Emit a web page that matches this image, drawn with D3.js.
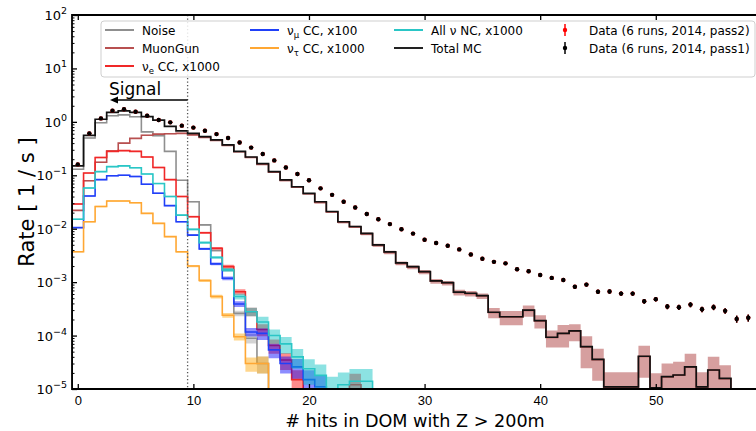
<!DOCTYPE html>
<html>
<head>
<meta charset="utf-8">
<script src="https://cdn.jsdelivr.net/npm/d3@7"></script>
<style>
  body { margin: 0; background: #fff; }
  svg { display: block; font-family: "DejaVu Sans", sans-serif; }
</style>
</head>
<body>
<svg id="chart" width="756" height="431"></svg>
<script>
// ---- data: rate per bin of "# hits in DOM with Z > 200m" (bin i = i hits) ----
const xTicks = [0, 10, 20, 30, 40, 50];
const yTicks = [1e-5, 1e-4, 1e-3, 1e-2, 1e-1, 1e0, 1e1, 1e2];
const yTickExp = ["\u22125", "\u22124", "\u22123", "\u22122", "\u22121", "0", "1", "2"];
const signalCut = 9.5;

const totalMC = [0.15, 0.56, 1.12, 1.5, 1.6, 1.5, 1.25, 1.08, 0.82, 0.68,
  0.61, 0.53, 0.46, 0.37, 0.28, 0.22, 0.165, 0.117, 0.082, 0.061,
  0.046, 0.032, 0.021, 0.0135, 0.011, 0.0082, 0.005, 0.0037, 0.0023, 0.00195,
  0.00157, 0.00106, 0.00098, 0.00065, 0.00062, 0.00056, 0.000273, 0.000225, 0.000225, 0.0003,
  0.00019, 0.000093, 0.00011, 0.000122, 0.000062, 0.000036, 0.000011, 0.000011, 0.000011, 0.000041,
  0.0000105, 0.000017, 0.0000183, 0.000026, 0.000011, 0.0000227, 0.0000158];

const noise = [0.13, 0.5, 0.96, 1.3, 1.35, 1.25, 0.65, 0.55, 0.28, 0.081,
  0.032, 0.0118, 0.0039, 0.0017, 0.00026, 0.000089, 0.00003];
const noiseErr = [0.02, 0.02, 0.02, 0.02, 0.02, 0.02, 0.02, 0.02, 0.02, 0.02,
  0.03, 0.04, 0.05, 0.08, 0.12, 0.2, 0.35];

const muonGun = [0.022, 0.079, 0.175, 0.285, 0.4, 0.49, 0.56, 0.59, 0.6, 0.61,
  0.57, 0.51, 0.45, 0.36, 0.275, 0.215, 0.16, 0.114, 0.08, 0.06,
  0.045, 0.031, 0.0205, 0.0132, 0.0108, 0.008, 0.0049, 0.0036, 0.00225, 0.0019,
  0.00154, 0.00104, 0.00096, 0.00064, 0.00061, 0.00055, 0.00027, 0.000222, 0.000222, 0.000296,
  0.000188, 0.000092, 0.000109, 0.000121, 0.000061, 0.0000355, 0.0000108, 0.0000108, 0.0000108, 0.0000405,
  0.0000104, 0.0000168, 0.0000181, 0.0000257, 0.0000108, 0.0000225, 0.0000156];
const muonGunErr = [0.02, 0.02, 0.02, 0.02, 0.02, 0.02, 0.02, 0.02, 0.02, 0.02,
  0.02, 0.02, 0.02, 0.02, 0.02, 0.02, 0.02, 0.02, 0.03, 0.03,
  0.03, 0.04, 0.04, 0.05, 0.05, 0.06, 0.07, 0.08, 0.08, 0.08,
  0.09, 0.1, 0.1, 0.12, 0.12, 0.12, 0.22, 0.3, 0.3, 0.24,
  0.28, 0.35, 0.45, 0.35, 0.6, 0.6, 0.9, 0.9, 0.9, 0.6,
  0.9, 0.78, 0.78, 0.78, 0.9, 0.78, 0.78];

const nueCC = [0.029, 0.11, 0.215, 0.28, 0.29, 0.28, 0.22, 0.14, 0.083, 0.04,
  0.0168, 0.0084, 0.0043, 0.00195, 0.00066, 0.00028, 0.00013, 0.000065, 0.000035, 0.000015,
  null, null, null, null, 0.000012];
const nueCCErr = [0.03, 0.03, 0.03, 0.03, 0.03, 0.03, 0.03, 0.03, 0.03, 0.03,
  0.04, 0.05, 0.06, 0.08, 0.12, 0.18, 0.25, 0.3, 0.35, 0.5,
  0, 0, 0, 0, 0.6];

const numuCC = [0.0105, 0.041, 0.083, 0.098, 0.1, 0.095, 0.068, 0.046, 0.027, 0.0135,
  0.0076, 0.0042, 0.0022, 0.00118, 0.00039, 0.000117, 0.00011, 0.000054, 0.00003, 0.000026,
  0.000015, 0.000011];
const numuCCErr = [0.03, 0.03, 0.03, 0.03, 0.03, 0.03, 0.03, 0.03, 0.03, 0.03,
  0.04, 0.05, 0.06, 0.08, 0.12, 0.18, 0.25, 0.3, 0.35, 0.4,
  0.5, 0.6];

const nutauCC = [0.0037, 0.0135, 0.026, 0.033, 0.033, 0.0307, 0.0194, 0.0126, 0.0071, 0.0037,
  0.002, 0.00107, 0.00054, 0.00024, 0.000095, 0.00003, 0.00003];
const nutauCCErr = [0.03, 0.03, 0.03, 0.03, 0.03, 0.03, 0.03, 0.03, 0.03, 0.04,
  0.05, 0.06, 0.08, 0.1, 0.15, 0.3, 0.35];

const allNC = [0.015, 0.058, 0.117, 0.145, 0.15, 0.138, 0.106, 0.07, 0.04, 0.018,
  0.0097, 0.0055, 0.0029, 0.0017, 0.00054, 0.00028, 0.00018, 0.0001, 0.00007, 0.00004,
  0.000024, 0.000018, 0.00001, 0.000012, 0.000014, 0.000014];
const allNCErr = [0.03, 0.03, 0.03, 0.03, 0.03, 0.03, 0.03, 0.03, 0.03, 0.03,
  0.04, 0.05, 0.06, 0.08, 0.12, 0.18, 0.25, 0.3, 0.35, 0.4,
  0.5, 0.6, 0.7, 0.7, 0.7, 0.7];

const dataPass1 = [0.16, 0.61, 1.16, 1.62, 1.72, 1.55, 1.3, 1.08, 0.98, 0.85,
  0.78, 0.68, 0.59, 0.5, 0.41, 0.33, 0.25, 0.19, 0.14, 0.106,
  0.081, 0.057, 0.043, 0.032, 0.025, 0.0188, 0.015, 0.0122, 0.0098, 0.0081,
  0.0062, 0.0054, 0.0048, 0.0041, 0.0033, 0.00274, 0.0024, 0.00225, 0.00174, 0.0016,
  0.00136, 0.0012, 0.0011, 0.00082, 0.0009, 0.00066, 0.00067, 0.00061, 0.00061, 0.00044,
  0.00048, 0.00035, 0.00034, 0.00038, 0.00031, 0.00034, 0.00029, 0.000205, 0.000215];
const dataPass2 = dataPass1.slice();
const dataErr = [0.01, 0.01, 0.01, 0.01, 0.01, 0.01, 0.01, 0.01, 0.01, 0.01,
  0.01, 0.01, 0.01, 0.01, 0.01, 0.01, 0.01, 0.01, 0.01, 0.02,
  0.02, 0.02, 0.02, 0.02, 0.02, 0.03, 0.03, 0.03, 0.03, 0.03,
  0.04, 0.04, 0.04, 0.04, 0.05, 0.05, 0.05, 0.05, 0.06, 0.06,
  0.06, 0.07, 0.07, 0.08, 0.08, 0.09, 0.09, 0.09, 0.09, 0.1,
  0.1, 0.11, 0.11, 0.11, 0.12, 0.12, 0.12, 0.15, 0.15];

// ---- layout ----
const W = 756, H = 431;
const plotTop = 15, plotBottom = 389, plotLeft = 72;
const x = d3.scaleLinear().domain([-0.5, 59.5]).range([plotLeft, plotLeft + 60 * 11.56]);
const y = d3.scaleLog().domain([1e-5, 1e2]).range([plotBottom, plotTop]);
const FLOOR = 1e-7;

const svg = d3.select("#chart");
svg.append("rect").attr("width", W).attr("height", H).attr("fill", "#fff");

svg.append("defs").append("clipPath").attr("id", "plotClip")
  .append("rect").attr("x", plotLeft).attr("y", plotTop)
  .attr("width", x.range()[1] - plotLeft).attr("height", plotBottom - plotTop);

const plot = svg.append("g").attr("clip-path", "url(#plotClip)");

// step outline of one histogram, closed down to the floor at both ends
const stepLine = d3.line()
  .x(d => x(d[0]))
  .y(d => y(d[1] == null || d[1] <= 0 ? FLOOR : d[1]))
  .curve(d3.curveStepAfter);

function stepPoints(vals) {
  const pts = [[-0.5, FLOOR]];
  vals.forEach((v, i) => pts.push([i - 0.5, v == null ? FLOOR : v]));
  pts.push([vals.length - 0.5, vals[vals.length - 1]]);
  pts.push([vals.length - 0.5, FLOOR]);
  return pts;
}

// shaded uncertainty band, one flat segment per bin
const bandArea = d3.area()
  .defined(d => d.v != null)
  .x(d => x(d.e))
  .y0(d => y(Math.max(d.v * (1 - d.r), FLOOR)))
  .y1(d => y(d.v * (1 + d.r)));

function bandPoints(vals, errs) {
  const pts = [];
  vals.forEach((v, i) => {
    pts.push({ e: i - 0.5, v: v, r: errs[i] });
    pts.push({ e: i + 0.5, v: v, r: errs[i] });
  });
  return pts;
}

const series = [
  { vals: noise,   errs: noiseErr,   line: "#8f8f8f", band: "#a0a0a0" },
  { vals: muonGun, errs: muonGunErr, line: "#b85050", band: "#a52a2a" },
  { vals: nueCC,   errs: nueCCErr,   line: "#f02828", band: "#ff0000" },
  { vals: numuCC,  errs: numuCCErr,  line: "#2040f8", band: "#0000ff" },
  { vals: nutauCC, errs: nutauCCErr, line: "#ffa733", band: "#ffa500" },
  { vals: allNC,   errs: allNCErr,   line: "#2ac6c6", band: "#00bfbf" }
];

series.forEach(s => {
  plot.append("path")
    .attr("d", bandArea(bandPoints(s.vals, s.errs)))
    .attr("fill", s.band).attr("fill-opacity", 0.45).attr("stroke", "none");
  plot.append("path")
    .attr("d", stepLine(stepPoints(s.vals)))
    .attr("fill", "none").attr("stroke", s.line).attr("stroke-width", 1.6);
});

plot.append("path")
  .attr("d", stepLine(stepPoints(totalMC)))
  .attr("fill", "none").attr("stroke", "#111").attr("stroke-width", 1.7);

// signal cut
svg.append("line")
  .attr("x1", x(signalCut)).attr("x2", x(signalCut))
  .attr("y1", plotTop).attr("y2", plotBottom)
  .attr("stroke", "#555").attr("stroke-width", 1.3)
  .attr("stroke-dasharray", "1.3,2.2");

// data points with error bars (pass2 below, pass1 on top)
function drawData(vals, color) {
  const g = plot.append("g");
  vals.forEach((v, i) => {
    const r = dataErr[i];
    g.append("line")
      .attr("x1", x(i)).attr("x2", x(i))
      .attr("y1", y(v * (1 - r))).attr("y2", y(v * (1 + r)))
      .attr("stroke", color).attr("stroke-width", 1.5);
    g.append("circle").attr("cx", x(i)).attr("cy", y(v)).attr("r", 2.2).attr("fill", color);
  });
}
drawData(dataPass2, "#ff0000");
drawData(dataPass1, "#000000");

// ---- axes ----
const axes = svg.append("g").attr("font-family", "DejaVu Sans, sans-serif");

const xAxis = axes.append("g").attr("transform", `translate(0,${plotBottom})`)
  .call(d3.axisBottom(x).tickValues(xTicks).tickSize(-5).tickPadding(7).tickFormat(d3.format("d")));
xAxis.select(".domain").remove();
xAxis.selectAll("line").attr("stroke", "#000").attr("stroke-width", 1.3);
xAxis.selectAll("text").attr("font-size", 13).attr("fill", "#000");

const xTop = axes.append("g").attr("transform", `translate(0,${plotTop})`)
  .call(d3.axisTop(x).tickValues(xTicks).tickSize(-5).tickFormat(""));
xTop.select(".domain").remove();
xTop.selectAll("line").attr("stroke", "#000").attr("stroke-width", 1.3);

const minorY = [];
for (let k = -5; k < 2; k++) for (let m = 2; m <= 9; m++) minorY.push(m * Math.pow(10, k));

const yAxis = axes.append("g").attr("transform", `translate(${plotLeft},0)`)
  .call(d3.axisLeft(y).tickValues(yTicks).tickSize(-5).tickFormat(""));
yAxis.select(".domain").remove();
yAxis.selectAll("line").attr("stroke", "#000").attr("stroke-width", 1.3);

const yMinor = axes.append("g").attr("transform", `translate(${plotLeft},0)`)
  .call(d3.axisLeft(y).tickValues(minorY).tickSize(-2.5).tickFormat(""));
yMinor.select(".domain").remove();
yMinor.selectAll("line").attr("stroke", "#000").attr("stroke-width", 1);

yTicks.forEach((t, i) => {
  const txt = axes.append("text")
    .attr("x", plotLeft - 5).attr("y", y(t) + 5)
    .attr("text-anchor", "end").attr("font-size", 13).attr("fill", "#000");
  txt.append("tspan").text("10");
  txt.append("tspan").attr("dy", -6).attr("font-size", 9.5).text(yTickExp[i]);
});

// spines
axes.append("line").attr("x1", plotLeft).attr("x2", plotLeft).attr("y1", plotTop - 0.9).attr("y2", plotBottom + 0.9)
  .attr("stroke", "#000").attr("stroke-width", 1.8);
axes.append("line").attr("x1", plotLeft).attr("x2", W).attr("y1", plotBottom).attr("y2", plotBottom)
  .attr("stroke", "#000").attr("stroke-width", 1.8);
axes.append("line").attr("x1", plotLeft).attr("x2", W).attr("y1", plotTop).attr("y2", plotTop)
  .attr("stroke", "#000").attr("stroke-width", 1.8);

// axis titles
axes.append("text")
  .attr("x", 415).attr("y", 427)
  .attr("text-anchor", "middle").attr("font-size", 17.6).attr("fill", "#000")
  .text("# hits in DOM with Z > 200m");
axes.append("text")
  .attr("transform", `translate(34,${(plotTop + plotBottom) / 2}) rotate(-90)`)
  .attr("text-anchor", "middle").attr("font-size", 21).attr("fill", "#000")
  .text("Rate [ 1 / s ]");

// signal annotation
const sigY = 100;
svg.append("text").attr("x", 109).attr("y", 95).attr("font-size", 17).attr("fill", "#000").text("Signal");
svg.append("line").attr("x1", x(signalCut)).attr("x2", 116).attr("y1", sigY).attr("y2", sigY)
  .attr("stroke", "#000").attr("stroke-width", 1.5);
svg.append("path").attr("d", `M110,${sigY}L118,${sigY - 3.5}L118,${sigY + 3.5}Z`).attr("fill", "#000");

// ---- legend ----
const leg = svg.append("g").attr("font-size", 12).attr("fill", "#000");
leg.append("rect").attr("x", 101).attr("y", 21).attr("width", 654).attr("height", 56)
  .attr("rx", 3).attr("fill", "#fff").attr("fill-opacity", 0.85)
  .attr("stroke", "#cfcfcf").attr("stroke-width", 1);

const rows = [30, 48, 66];
const lineItems = [
  { x: 105, row: 0, color: "#8f8f8f", label: [["Noise"]] },
  { x: 105, row: 1, color: "#b85050", label: [["MuonGun"]] },
  { x: 105, row: 2, color: "#f02828", label: [["\u03bd"], ["e", "sub"], [" CC, x1000"]] },
  { x: 250, row: 0, color: "#2040f8", label: [["\u03bd"], ["\u03bc", "sub"], [" CC, x100"]] },
  { x: 250, row: 1, color: "#ffa733", label: [["\u03bd"], ["\u03c4", "sub"], [" CC, x1000"]] },
  { x: 394, row: 0, color: "#2ac6c6", label: [["All \u03bd NC, x1000"]] },
  { x: 394, row: 1, color: "#222", label: [["Total MC"]] }
];
function labelText(g, tx, ty, parts) {
  const t = g.append("text").attr("x", tx).attr("y", ty + 4.5);
  let shifted = false;
  parts.forEach(p => {
    const sp = t.append("tspan").text(p[0]);
    if (p[1] === "sub") { sp.attr("dy", 3).attr("font-size", 8.5); shifted = true; }
    else if (shifted) { sp.attr("dy", -3); shifted = false; }
  });
}
lineItems.forEach(it => {
  const ry = rows[it.row];
  leg.append("line").attr("x1", it.x).attr("x2", it.x + 29).attr("y1", ry).attr("y2", ry)
    .attr("stroke", it.color).attr("stroke-width", 2);
  labelText(leg, it.x + 37, ry, it.label);
});
const dataItems = [
  { row: 0, color: "#ff0000", label: "Data (6 runs, 2014, pass2)" },
  { row: 1, color: "#000000", label: "Data (6 runs, 2014, pass1)" }
];
dataItems.forEach(it => {
  const ry = rows[it.row];
  leg.append("line").attr("x1", 565).attr("x2", 565).attr("y1", ry - 6).attr("y2", ry + 6)
    .attr("stroke", it.color).attr("stroke-width", 1.5);
  leg.append("circle").attr("cx", 565).attr("cy", ry).attr("r", 2.2).attr("fill", it.color);
  leg.append("text").attr("x", 589).attr("y", ry + 4.5).text(it.label);
});
</script>
</body>
</html>
